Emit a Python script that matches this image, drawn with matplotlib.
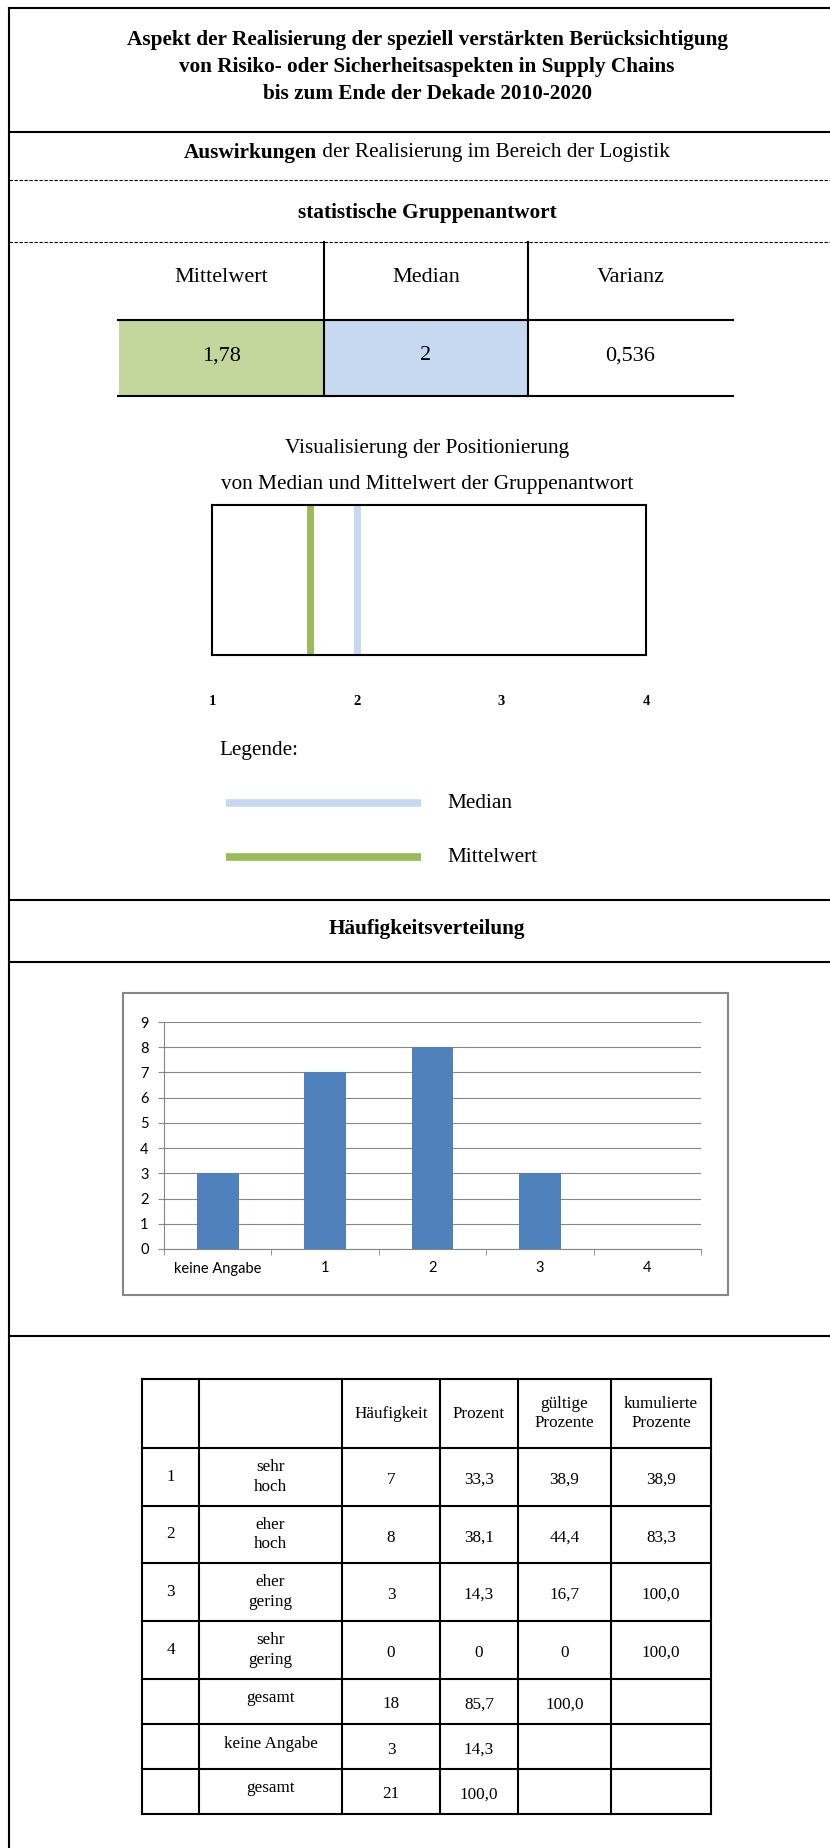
import numpy as np
import matplotlib
matplotlib.use("Agg")
import matplotlib.pyplot as plt
from matplotlib.patches import Rectangle

W, H = 830, 1848

title_lines = ["Aspekt der Realisierung der speziell verstärkten Berücksichtigung",
               "von Risiko- oder Sicherheitsaspekten in Supply Chains",
               "bis zum Ende der Dekade 2010-2020"]
stat_names = ["Mittelwert", "Median", "Varianz"]
stat_values = ["1,78", "2", "0,536"]
stat_colors = ["#C3D69B", "#C6D9F0", "white"]

# positions of the two marker lines
marker_names = ["Median", "Mittelwert"]
marker_pos = [2.0, 1.68]
marker_colors = ["#C6D9F0", "#9BBB59"]
scale_ticks = [1, 2, 3, 4]

bar_cats = ["keine Angabe", "1", "2", "3", "4"]
bar_counts = [3, 7, 8, 3, 0]

tab_header = ["", "", "Häufigkeit", "Prozent", "gültige\nProzente", "kumulierte\nProzente"]
tab_rows = [
    ["1", "sehr\nhoch", "7", "33,3", "38,9", "38,9"],
    ["2", "eher\nhoch", "8", "38,1", "44,4", "83,3"],
    ["3", "eher\ngering", "3", "14,3", "16,7", "100,0"],
    ["4", "sehr\ngering", "0", "0", "0", "100,0"],
    ["", "gesamt", "18", "85,7", "100,0", ""],
    ["", "keine Angabe", "3", "14,3", "", ""],
    ["", "gesamt", "21", "100,0", "", ""],
]

serif = "Liberation Serif"
fs = 15.3


def rect(x0, y0, x1, y1):
    return [x0 / W, 1 - y1 / H, (x1 - x0) / W, (y1 - y0) / H]


fig = plt.figure(figsize=(W / 100, H / 100), dpi=100)
ax = fig.add_axes([0, 0, 1, 1])
ax.set_xlim(0, W)
ax.set_ylim(H, 0)
ax.axis("off")
renderer = fig.canvas.get_renderer()

lw = 1.5
cx = 427

# frame
ax.plot([9, W], [8, 8], color="black", lw=lw)
ax.plot([9, 9], [8, H], color="black", lw=lw)
for y in [132, 900, 962, 1336]:
    ax.plot([9, W], [y, y], color="black", lw=lw)
for y in [180, 242]:
    ax.plot([9, W], [y, y], color="black", lw=0.8, dashes=(3, 1.5))

for i, t in enumerate(title_lines):
    ax.text(cx, 40 + 27 * i, t, ha="center", va="center", family=serif,
            weight="bold", fontsize=fs)

# mixed bold / regular line, centred as a whole
t1 = ax.text(0, 153, "Auswirkungen", ha="left", va="center", family=serif,
             weight="bold", fontsize=fs)
t2 = ax.text(0, 153, " der Realisierung im Bereich der Logistik", ha="left",
             va="center", family=serif, fontsize=fs)
w1 = t1.get_window_extent(renderer).width
w2 = t2.get_window_extent(renderer).width
x_start = cx - (w1 + w2) / 2
t1.set_x(x_start)
t2.set_x(x_start + w1)

ax.text(cx, 213, "statistische Gruppenantwort", ha="center", va="center",
        family=serif, weight="bold", fontsize=fs)

# statistics table
col_x = [119, 324, 528, 733]
for i in range(3):
    ax.add_patch(Rectangle((col_x[i], 320), col_x[i + 1] - col_x[i], 76,
                           facecolor=stat_colors[i], edgecolor="none"))
    xm = (col_x[i] + col_x[i + 1]) / 2
    ax.text(xm, 278, stat_names[i], ha="center", va="center", family=serif, fontsize=fs + 0.7)
    ax.text(xm, 356, stat_values[i], ha="center", va="center", family=serif, fontsize=fs + 0.7)
for x in col_x[1:3]:
    ax.plot([x, x], [242, 396], color="black", lw=lw)
for y in [320, 396]:
    ax.plot([118, 733], [y, y], color="black", lw=lw)

ax.text(cx, 448, "Visualisierung der Positionierung", ha="center", va="center",
        family=serif, fontsize=fs)
ax.text(cx, 485, "von Median und Mittelwert der Gruppenantwort", ha="center",
        va="center", family=serif, fontsize=fs)

# positioning box
axv = fig.add_axes(rect(212, 505, 646, 655))
axv.set_xlim(1, 4)
axv.set_ylim(0, 1)
for p, c in zip(marker_pos, marker_colors):
    axv.axvline(p, color=c, lw=5)
for s in axv.spines.values():
    s.set_linewidth(lw)
axv.set_yticks([])
axv.set_xticks(scale_ticks)
axv.set_xticklabels([str(t) for t in scale_ticks], family=serif, weight="bold", fontsize=10.5)
axv.tick_params(axis="x", length=0, pad=29)

# legend
ax.text(219, 751, "Legende:", ha="left", va="center", family=serif, fontsize=fs)
for i, (n, c) in enumerate(zip(marker_names, marker_colors)):
    y = 803 + 54 * i
    ax.plot([226, 421], [y, y], color=c, lw=5.5, solid_capstyle="butt")
    ax.text(447, y, n, ha="left", va="center", family=serif, fontsize=fs)

ax.text(cx, 929, "Häufigkeitsverteilung", ha="center", va="center", family=serif,
        weight="bold", fontsize=fs)

# bar chart
gray = "#868686"
ax.add_patch(Rectangle((123, 993), 605, 302, facecolor="white", edgecolor=gray, lw=1.5))
axb = fig.add_axes(rect(164, 1022, 701, 1249))
xpos = np.arange(len(bar_cats))
axb.bar(xpos, bar_counts, width=0.39, color="#4F81BD", zorder=3)
axb.set_xlim(-0.5, len(bar_cats) - 0.5)
axb.set_ylim(0, 9)
axb.set_yticks(range(10))
axb.grid(axis="y", color=gray, lw=0.8)
axb.set_axisbelow(True)
for s in ["top", "right"]:
    axb.spines[s].set_visible(False)
for s in ["left", "bottom"]:
    axb.spines[s].set_color(gray)
    axb.spines[s].set_linewidth(0.8)
axb.set_xticks(xpos)
axb.set_xticklabels(bar_cats)
axb.set_xticks(np.arange(-0.5, len(bar_cats)), minor=True)
axb.tick_params(axis="x", which="major", length=0, pad=9, labelsize=10.5)
axb.tick_params(axis="x", which="minor", length=4, color=gray, direction="out")
axb.tick_params(axis="y", length=4, color=gray, labelsize=10.5, pad=7)
for lab in axb.get_xticklabels() + axb.get_yticklabels():
    lab.set_family("Lato")

# frequency table
tx = [142, 199, 342, 440, 518, 611, 711]
ty = [1379, 1448, 1506, 1563, 1621, 1679, 1724, 1769, 1814]
for x in tx:
    ax.plot([x, x], [ty[0], ty[-1]], color="black", lw=lw)
for y in ty:
    ax.plot([tx[0], tx[-1]], [y, y], color="black", lw=lw)
for r, row in enumerate([tab_header] + tab_rows):
    ym = (ty[r] + ty[r + 1]) / 2
    for c, val in enumerate(row):
        if not val:
            continue
        off = 0 if (r == 0 or c < 2) else 3
        if r > 4 and c == 1:
            off = -3
        ax.text((tx[c] + tx[c + 1]) / 2, ym + off, val, ha="center", va="center",
                family=serif, fontsize=12.3, linespacing=1.3)

fig.savefig("out.png", dpi=100)
